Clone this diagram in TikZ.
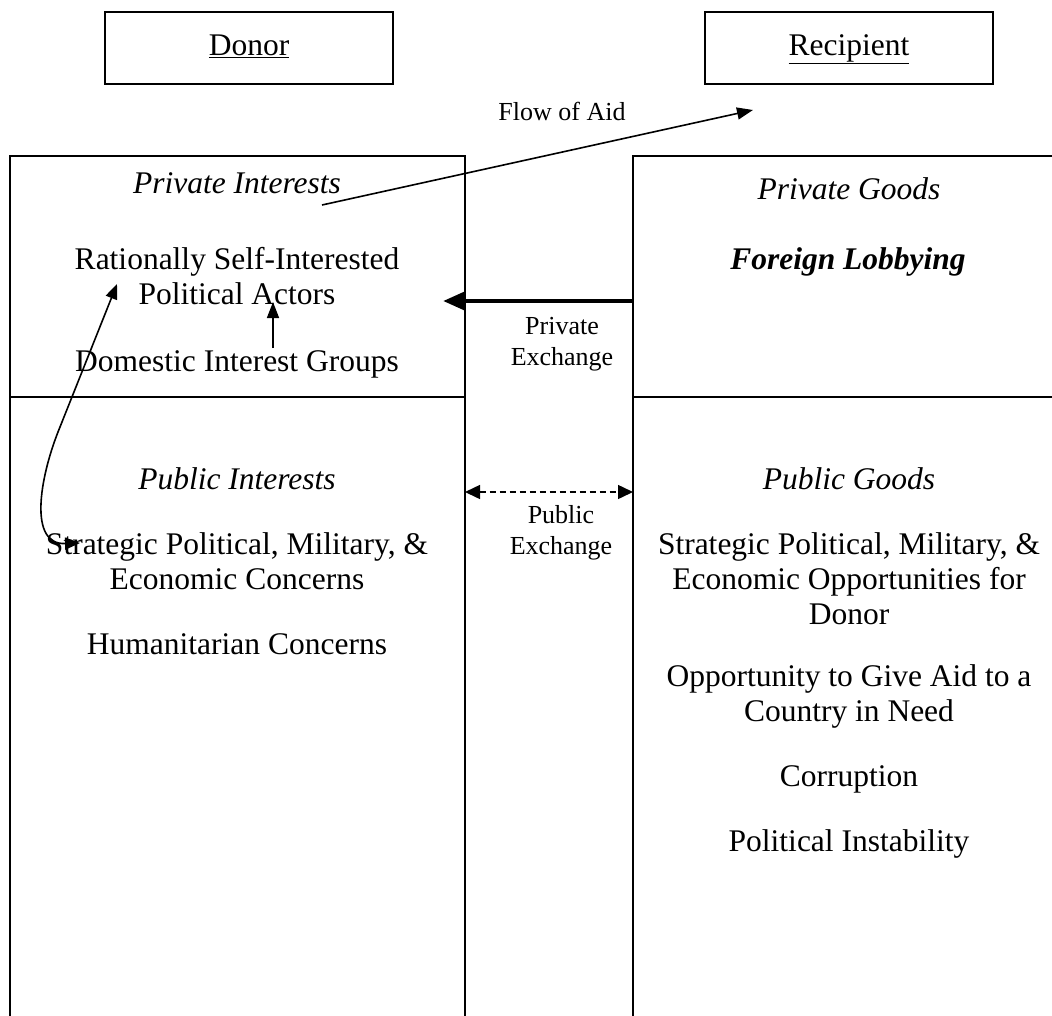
\documentclass[tikz,border=0pt]{standalone}
\usepackage{fontspec}
\setmainfont{Liberation Serif}
\usetikzlibrary{arrows.meta}
\begin{document}
\begin{tikzpicture}[x=1pt,y=-1pt,
  bigtxt/.style={font=\fontsize{31.5}{35}\selectfont, align=center, inner sep=0pt},
  smalltxt/.style={font=\fontsize{26}{31}\selectfont, align=center, inner sep=0pt},
  hdrbox/.style={draw, line width=2pt, minimum width=288pt, minimum height=72pt, inner sep=0pt, text height=22pt, text depth=7pt, font=\fontsize{31.5}{35}\selectfont},
  panel/.style={line width=2pt},
  divider/.style={line width=1.4pt},
  thinarrow/.style={line width=1.6pt, -{Triangle[length=16pt,width=12pt]}},
  bothtips/.style={line width=1.6pt, {Triangle[length=15pt,width=12pt]}-{Triangle[length=15pt,width=12pt]}},
  thickarrow/.style={line width=4.5pt, -{Triangle[length=22pt,width=18pt]}},
  dasharrow/.style={line width=1.5pt, dash pattern=on 6pt off 4pt, {Triangle[length=15pt,width=14pt]}-{Triangle[length=15pt,width=14pt]}}
]
\useasboundingbox (0,0) rectangle (1052,1015);

% header boxes
\node[hdrbox] (donor) at (249,48) {\underline{Donor}};
\node[hdrbox] (recip) at (849,48) {\underline{Recipient}};

% panels
\draw[panel] (10,1016) -- (10,156) -- (465,156) -- (465,1016);
\draw[divider] (10,397) -- (465,397);
\draw[panel] (1054,156) -- (633,156) -- (633,1016);
\draw[divider] (633,397) -- (1054,397);

% left panel texts
\node[bigtxt] (privint) at (237,183) {\textit{Private Interests}};
\node[bigtxt] (rsi) at (237,276) {Rationally Self-Interested\\Political Actors};
\node[bigtxt] (dig) at (237,364) {Domestic Interest Groups};
\node[bigtxt] (pubint) at (237,479) {\textit{Public Interests}};
\node[bigtxt] (strat) at (237,561) {Strategic Political, Military, \&\\Economic Concerns};
\node[bigtxt] (hum) at (237,644) {Humanitarian Concerns};

% right panel texts
\node[bigtxt] (privgoods) at (849,189) {\textit{Private Goods}};
\node[bigtxt] (lobby) at (848,262) {\textbf{\textit{Foreign Lobbying}}};
\node[bigtxt] (pubgoods) at (849,479) {\textit{Public Goods}};
\node[bigtxt] (stratr) at (849,579) {Strategic Political, Military, \&\\Economic Opportunities for\\Donor};
\node[bigtxt] (opp) at (849,696) {Opportunity to Give Aid to a\\Country in Need};
\node[bigtxt] (corr) at (849,779) {Corruption};
\node[bigtxt] (polinst) at (849,844) {Political Instability};

% middle labels
\node[smalltxt] (flow) at (562,111) {Flow of Aid};
\node[smalltxt] (privex) at (562,344) {Private\\Exchange};
\node[smalltxt] (pubex) at (561,533) {Public\\Exchange};

% connector end points
\coordinate (flowstart) at (322,205);
\coordinate (flowend) at (753,110);
\coordinate (pxstart) at (633,301);
\coordinate (pxend) at (443,301);
\coordinate (pbleft) at (465,492);
\coordinate (pbright) at (633,492);
\coordinate (digtop) at (273,348);
\coordinate (actbot) at (273,302);
\coordinate (ctop) at (117,284);
\coordinate (cmid) at (58,432);
\coordinate (cbot) at (80,543);

% connectors
\draw[thinarrow] (flowstart) -- (flowend);
\draw[thickarrow] (pxstart) -- (pxend);
\draw[dasharrow] (pbleft) -- (pbright);
\draw[thinarrow] (digtop) -- (actbot);
\draw[bothtips] (ctop) -- (cmid) .. controls (40,478) and (28,545) .. (cbot);
\end{tikzpicture}
\end{document}
